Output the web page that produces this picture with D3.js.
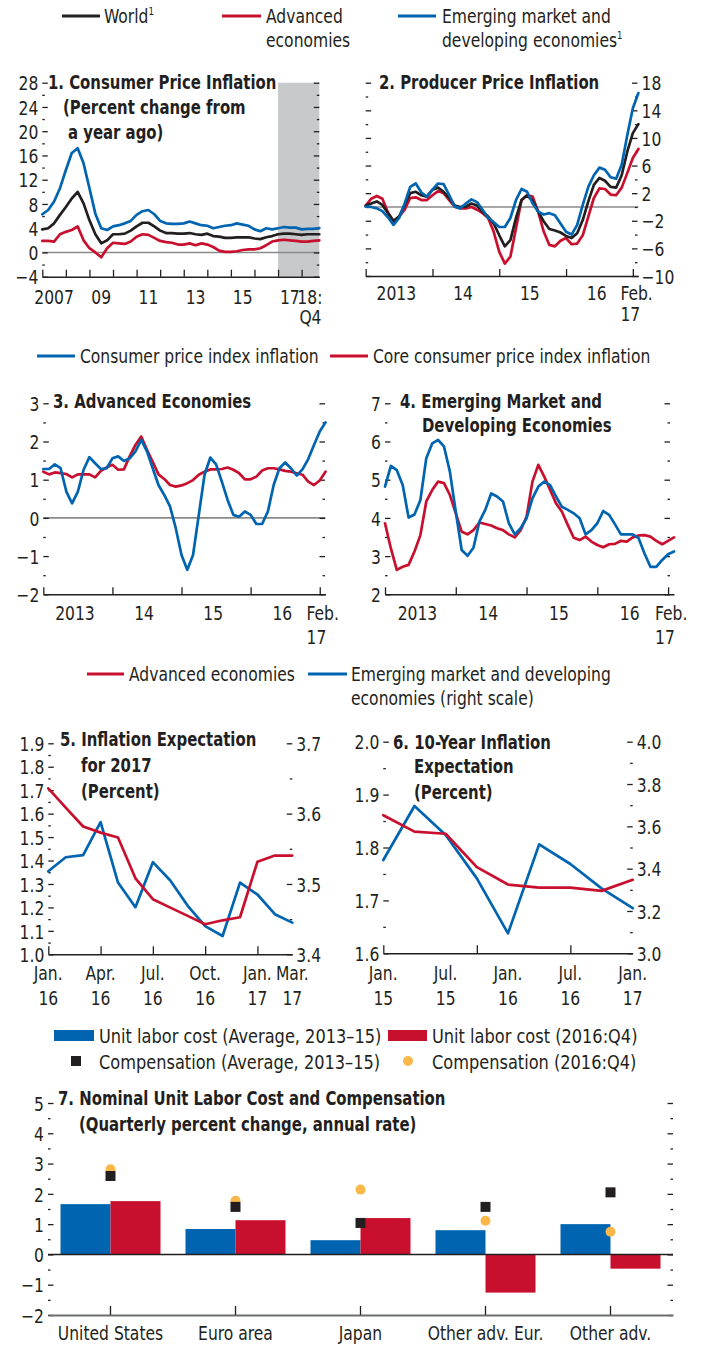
<!DOCTYPE html>
<html lang="en">
<head>
<meta charset="UTF-8">
<title>Inflation panels</title>
<style>
  body { margin: 0; background: #fff; }
  svg { display: block; }
  text { font-family: 'Liberation Sans Narrow', 'Arial Narrow', 'DejaVu Sans Condensed', sans-serif; fill: #231f20; font-size: 20px; }
  .title { font-weight: bold; font-size: 19.5px; }
  .tick line { stroke: #231f20; stroke-width: 1.3; }
  .xaxis .domain { stroke: #231f20; stroke-width: 1.6; }
  .line { fill: none; stroke-width: 2.7; stroke-linejoin: round; stroke-linecap: round; }
  .zero { stroke: #8a8a8a; stroke-width: 1.6; }
</style>
</head>
<body>
<svg width="703" height="1346"></svg>
<script src="https://cdn.jsdelivr.net/npm/d3@7"></script>
<script>
// colours
var BLACK = "#231f20", RED = "#c8102e", BLUE = "#0064b0", ORANGE = "#fbb84a", SHADE = "#c8c9cb";

// 1. consumer price inflation, quarterly 2007:Q1 - 2018:Q4
var cpiWorld = [3.8,4.0,4.8,6.2,7.5,8.9,10.0,8.1,5.3,3.0,1.5,2.0,3.0,3.0,3.1,3.6,4.3,4.9,4.9,4.3,3.6,3.2,3.2,3.1,3.1,3.2,3.0,2.9,3.1,2.7,2.6,2.4,2.4,2.5,2.5,2.5,2.3,2.2,2.5,2.7,3.0,3.1,3.1,3.0,2.9,3.0,3.0,3.0];
var cpiAdv = [1.9,1.9,1.8,3.0,3.4,3.7,4.3,2.0,0.7,0.0,-0.8,0.7,1.6,1.5,1.4,1.8,2.6,3.0,2.9,2.4,1.9,1.7,1.6,1.3,1.3,1.5,1.2,1.5,1.3,0.9,0.3,0.1,0.1,0.2,0.4,0.5,0.5,0.7,1.2,1.8,2.0,2.1,2.0,1.9,1.8,1.8,1.9,2.0];
var cpiEmde = [6.3,7.0,8.4,10.6,13.6,16.4,17.2,14.7,10.6,6.4,4.0,3.7,4.3,4.5,4.8,5.2,6.2,6.8,7.0,6.3,5.2,4.8,4.7,4.7,4.8,5.1,4.8,4.5,4.4,4.0,4.2,4.4,4.5,4.8,4.6,4.4,3.8,3.5,4.0,3.8,4.0,4.2,4.1,4.1,3.8,3.9,3.9,4.0];
var p1YearLabels = ["2007", "09", "11", "13", "15", "17"];
var p1ForecastStart = 40; // 2017:Q1

// 2. producer price inflation, monthly Jan 2013 - Feb 2017
var ppiWorld = [0.2,0.5,0.8,0.3,-0.9,-2.0,-1.4,0.3,2.0,2.2,1.7,1.5,2.5,2.8,2.2,1.3,0.2,0.0,0.05,0.5,0.2,-0.7,-1.4,-2.4,-4.1,-5.7,-4.8,-1.6,1.0,1.7,0.9,-0.7,-2.1,-3.2,-3.4,-3.7,-4.2,-4.5,-3.8,-1.9,0.8,3.2,4.2,3.8,2.9,2.8,4.6,8.0,10.7,12.0];
var ppiAdv = [0.2,1.2,1.6,1.2,-0.8,-2.1,-1.4,-0.4,1.3,1.4,1.0,1.0,1.7,2.3,2.0,1.0,0.05,-0.2,-0.2,0.0,-0.4,-0.9,-1.6,-3.6,-6.5,-8.2,-7.2,-3.1,1.0,1.7,1.5,-0.7,-3.6,-5.5,-5.7,-4.9,-4.5,-5.4,-5.3,-4.1,-1.4,1.3,2.7,2.6,1.8,1.7,2.8,4.9,7.1,8.4];
var ppiEmde = [0.05,0.0,-0.2,-0.6,-1.5,-2.6,-1.6,0.5,2.9,3.4,2.1,1.5,2.5,3.4,3.3,1.7,0.05,-0.2,0.5,1.1,0.7,-0.4,-1.6,-2.2,-2.9,-2.9,-1.6,1.0,2.6,2.2,0.5,-0.7,-1.1,-0.9,-1.2,-2.4,-3.6,-4.0,-2.6,0.3,2.9,4.6,5.7,5.4,4.3,4.1,6.1,10.4,14.3,16.5];
var monthYearLabels = ["2013", "14", "15", "16"];

// 3. advanced economies, monthly Jan 2013 - Feb 2017
var aeCpi = [1.28,1.28,1.40,1.30,0.69,0.38,0.69,1.26,1.59,1.43,1.28,1.30,1.56,1.61,1.49,1.56,1.74,2.04,1.74,1.30,0.86,0.60,0.30,-0.27,-0.97,-1.36,-0.97,0.08,1.13,1.58,1.40,0.95,0.47,0.08,0.03,0.17,0.08,-0.16,-0.16,0.17,0.86,1.30,1.45,1.30,1.11,1.27,1.54,1.91,2.26,2.50];
var aeCore = [1.21,1.14,1.19,1.17,1.15,1.06,1.14,1.14,1.14,1.06,1.23,1.32,1.39,1.26,1.27,1.61,1.91,2.13,1.78,1.47,1.14,1.02,0.86,0.82,0.85,0.91,0.99,1.13,1.21,1.27,1.27,1.28,1.32,1.26,1.17,1.01,1.01,1.08,1.24,1.30,1.30,1.27,1.23,1.21,1.17,1.13,0.95,0.86,0.98,1.21];

// 4. emerging market and developing economies, monthly Jan 2013 - Feb 2017
var emCpi = [4.82,5.36,5.25,4.86,4.01,4.09,4.47,5.56,5.95,6.04,5.87,5.21,4.16,3.16,3.01,3.22,3.90,4.21,4.64,4.56,4.43,3.86,3.57,3.73,3.99,4.51,4.82,4.95,4.86,4.56,4.29,4.21,4.12,3.99,3.57,3.68,3.86,4.18,4.08,3.83,3.57,3.57,3.57,3.47,3.07,2.72,2.72,2.90,3.05,3.12];
var emCore = [3.86,3.20,2.64,2.72,2.77,3.12,3.55,4.43,4.73,4.95,4.91,4.60,4.12,3.64,3.57,3.68,3.88,3.84,3.80,3.73,3.68,3.57,3.49,3.68,4.03,4.95,5.39,5.08,4.73,4.38,4.16,3.81,3.48,3.42,3.51,3.38,3.29,3.23,3.31,3.32,3.40,3.38,3.49,3.54,3.55,3.51,3.40,3.31,3.40,3.49];

// 5. inflation expectation for 2017, monthly Jan 2016 - Mar 2017
var exp17Adv = [1.708,1.626,1.545,1.519,1.498,1.324,1.235,1.199,1.164,1.128,1.145,1.158,1.395,1.421,1.421];
var exp17Emde = [3.518,3.538,3.541,3.588,3.502,3.467,3.531,3.505,3.469,3.440,3.426,3.502,3.485,3.457,3.445];
var p5Labels = [["Jan.", "16"], ["Apr.", "16"], ["Jul.", "16"], ["Oct.", "16"], ["Jan.", "17"], ["Mar.", "17"]];
var p5LabelIdx = [0, 3, 6, 9, 12, 14];

// 6. 10-year inflation expectation, quarterly Jan 2015 - Jan 2017
var exp10Adv = [1.861,1.830,1.826,1.763,1.730,1.724,1.724,1.718,1.739];
var exp10Emde = [3.441,3.696,3.559,3.354,3.094,3.515,3.422,3.307,3.213];
var p6Labels = [["Jan.", "15"], ["Jul.", "15"], ["Jan.", "16"], ["Jul.", "16"], ["Jan.", "17"]];
var p6LabelIdx = [0, 2, 4, 6, 8];

// 7. unit labor cost and compensation
var countries = ["United States", "Euro area", "Japan", "Other adv. Eur.", "Other adv."];
var ulcAvg = [1.66, 0.84, 0.47, 0.80, 1.00];
var ulcQ4 = [1.76, 1.13, 1.20, -1.26, -0.47];
var compAvg = [2.59, 1.57, 1.04, 1.57, 2.05];
var compQ4 = [2.81, 1.77, 2.14, 1.11, 0.75];

var svg = d3.select("svg");

function steps(lo, hi, step) {
  return d3.range(Math.round((hi - lo) / step) + 1).map(function(k) { return +(lo + k * step).toFixed(4); });
}

// y axis with inward ticks, long at labelled values, short between
function vAxis(side, y, x, lo, hi, step, labelStep, fmt, labels) {
  var major = function(v) {
    var k = (v - lo) / labelStep;
    return Math.abs(k - Math.round(k)) < 1e-6;
  };
  var axis = (side === "left" ? d3.axisLeft(y) : d3.axisRight(y))
    .tickValues(steps(lo, hi, step))
    .tickSizeOuter(0)
    .tickSizeInner(-5.5)
    .tickPadding(labels ? 4 : 0)
    .tickFormat(function(v) { return labels && major(v) ? fmt(v) : ""; });
  var a = svg.append("g").attr("transform", "translate(" + x + ",0)").call(axis);
  a.attr("font-size", null).attr("font-family", null);
  a.select(".domain").remove();
  a.selectAll(".tick line").attr("x2", function(v) {
    return (side === "left" ? 1 : -1) * (major(v) ? 5.5 : 2.5);
  });
  a.selectAll(".tick text").attr("fill", BLACK).attr("dy", "0.36em");
}

function xAxis(x, yPos, ticks, len) {
  return svg.append("g").attr("class", "xaxis").attr("transform", "translate(0," + yPos + ")")
    .call(d3.axisBottom(x).tickValues(ticks).tickSizeInner(-len).tickSizeOuter(0).tickFormat(""));
}

function zeroLine(x0, x1, y, color) {
  svg.append("line").attr("class", "zero")
    .attr("x1", x0).attr("x2", x1)
    .attr("y1", y(0)).attr("y2", y(0))
    .style("stroke", color || null);
}

function drawLine(x, y, data, color) {
  svg.append("path").datum(data).attr("class", "line").attr("stroke", color)
    .attr("d", d3.line().x(function(d, i) { return x(i); }).y(function(d) { return y(d); }));
}

function title(lines) {
  lines.forEach(function(l) {
    svg.append("text").attr("class", "title").attr("x", l[1]).attr("y", l[2]).text(l[0]);
  });
}

function label(txt, x, y, anchor) {
  return svg.append("text").attr("x", x).attr("y", y).attr("text-anchor", anchor || "middle").text(txt);
}

function legendLine(x1, x2, y, color) {
  svg.append("line").attr("x1", x1).attr("x2", x2).attr("y1", y).attr("y2", y)
    .attr("stroke", color).attr("stroke-width", 3);
}

var f0 = d3.format("d"), f1 = d3.format(".1f");

// ---------- legend top ----------
legendLine(62, 100, 16, BLACK);
var w = label("World", 104, 23, "start");
w.append("tspan").attr("font-size", 11).attr("dy", -8).text("1");
legendLine(222, 261, 16, RED);
label("Advanced", 266, 23, "start");
label("economies", 266, 47, "start");
legendLine(398, 436, 16, BLUE);
label("Emerging market and", 442, 23, "start");
var em = label("developing economies", 442, 47, "start");
em.append("tspan").attr("font-size", 11).attr("dy", -8).text("1");

// ---------- panel 1 ----------
var x1 = d3.scaleLinear().domain([0, 47]).range([42.3, 319.3]);
var y1 = d3.scaleLinear().domain([-4, 28]).range([276.7, 82.7]);
svg.append("rect").attr("x", x1(p1ForecastStart)).attr("y", y1(28))
  .attr("width", x1(47) - x1(p1ForecastStart)).attr("height", y1(-4) - y1(28)).attr("fill", SHADE);
zeroLine(x1(0), x1(47), y1);
vAxis("left", y1, x1(0), -4, 28, 2, 4, f0, true);
vAxis("right", y1, x1(47), -4, 28, 2, 4, f0, false);
xAxis(x1, y1(-4), d3.range(0, 48, 4), 7);
drawLine(x1, y1, cpiAdv, RED);
drawLine(x1, y1, cpiWorld, BLACK);
drawLine(x1, y1, cpiEmde, BLUE);
p1YearLabels.forEach(function(t, i) { label(t, x1(i * 8 + 2), 304); });
label("18:", x1(45.4), 304);
label("Q4", x1(45.5), 324);
title([["1. Consumer Price Inflation", 48, 89], ["(Percent change from", 63, 114], ["a year ago)", 68, 139]]);

// ---------- panel 2 ----------
var x2 = d3.scaleLinear().domain([0, 49]).range([365.7, 638.4]);
var y2 = d3.scaleLinear().domain([-10, 18]).range([276, 82.7]);
zeroLine(x2(0), x2(49), y2);
vAxis("left", y2, x2(0), -10, 18, 2, 4, f0, false);
vAxis("right", y2, 637.5, -10, 18, 2, 4, f0, true);
xAxis(x2, y2(-10), [0, 12, 24, 36, 48], 7);
drawLine(x2, y2, ppiAdv, RED);
drawLine(x2, y2, ppiWorld, BLACK);
drawLine(x2, y2, ppiEmde, BLUE);
monthYearLabels.forEach(function(t, i) { label(t, x2(i * 12 + 5.5), 300); });
label("Feb.", x2(49) - 18, 300, "start");
label("17", x2(49) - 18, 321, "start");
title([["2. Producer Price Inflation", 379, 89]]);

// ---------- legend panels 3-4 ----------
legendLine(37, 75, 356, BLUE);
label("Consumer price index inflation", 80, 363, "start");
legendLine(330, 368, 356, RED);
label("Core consumer price index inflation", 373, 363, "start");

// ---------- panel 3 ----------
var x3 = d3.scaleLinear().domain([0, 49]).range([43.3, 325.5]);
var y3 = d3.scaleLinear().domain([-2, 3]).range([594.3, 403.3]);
zeroLine(x3(0), x3(49), y3);
vAxis("left", y3, x3(0), -2, 3, 0.5, 1, f0, true);
vAxis("right", y3, 325, -2, 3, 0.5, 1, f0, false);
xAxis(x3, y3(-2), [0, 12, 24, 36, 48], 7);
drawLine(x3, y3, aeCore, RED);
drawLine(x3, y3, aeCpi, BLUE);
monthYearLabels.forEach(function(t, i) { label(t, x3(i * 12 + 5.5), 620); });
label("Feb.", x3(49) - 19, 620, "start");
label("17", x3(49) - 19, 644, "start");
title([["3. Advanced Economies", 53, 408]]);

// ---------- panel 4 ----------
var x4 = d3.scaleLinear().domain([0, 49]).range([385, 674]);
var y4 = d3.scaleLinear().domain([2, 7]).range([594.3, 403.3]);
vAxis("left", y4, x4(0), 2, 7, 0.5, 1, f0, true);
vAxis("right", y4, 670, 2, 7, 0.5, 1, f0, false);
xAxis(x4, y4(2), [0, 12, 24, 36, 48], 7);
drawLine(x4, y4, emCore, RED);
drawLine(x4, y4, emCpi, BLUE);
monthYearLabels.forEach(function(t, i) { label(t, x4(i * 12 + 5.5), 620); });
label("Feb.", x4(49) - 19, 620, "start");
label("17", x4(49) - 19, 644, "start");
title([["4. Emerging Market and", 400, 408], ["Developing Economies", 422, 432]]);

// ---------- legend panels 5-6 ----------
legendLine(87, 124, 674, RED);
label("Advanced economies", 129, 681, "start");
legendLine(308, 347, 674, BLUE);
label("Emerging market and developing", 351, 681, "start");
label("economies (right scale)", 351, 705, "start");

// ---------- panel 5 ----------
var x5 = d3.scaleLinear().domain([0, 14]).range([48.3, 292.3]);
var y5 = d3.scaleLinear().domain([1.0, 1.9]).range([954.3, 743.3]);
var y5r = d3.scaleLinear().domain([3.4, 3.7]).range([954.3, 743.3]);
vAxis("left", y5, x5(0), 1.0, 1.9, 0.05, 0.1, f1, true);
vAxis("right", y5r, x5(14), 3.4, 3.7, 0.05, 0.1, f1, true);
xAxis(x5, y5(1.0), [0, 3, 6, 9, 12], 8);
drawLine(x5, y5r, exp17Emde, BLUE);
drawLine(x5, y5, exp17Adv, RED);
p5Labels.forEach(function(t, i) {
  label(t[0], x5(p5LabelIdx[i]), 980);
  label(t[1], x5(p5LabelIdx[i]), 1005);
});
title([["5. Inflation Expectation", 60, 746], ["for 2017", 81, 772], ["(Percent)", 81, 798]]);

// ---------- panel 6 ----------
var x6 = d3.scaleLinear().domain([0, 8]).range([383.3, 632.7]);
var y6 = d3.scaleLinear().domain([1.6, 2.0]).range([953.3, 741.7]);
var y6r = d3.scaleLinear().domain([3.0, 4.0]).range([953.3, 741.7]);
vAxis("left", y6, x6(0), 1.6, 2.0, 0.05, 0.1, f1, true);
vAxis("right", y6r, x6(8), 3.0, 4.0, 0.1, 0.2, f1, true);
xAxis(x6, y6(1.6), [0, 3, 6], 8);
drawLine(x6, y6r, exp10Emde, BLUE);
drawLine(x6, y6, exp10Adv, RED);
p6Labels.forEach(function(t, i) {
  label(t[0], x6(p6LabelIdx[i]), 980);
  label(t[1], x6(p6LabelIdx[i]), 1005);
});
title([["6. 10-Year Inflation", 393, 749], ["Expectation", 414, 773], ["(Percent)", 414, 799]]);

// ---------- legend panel 7 ----------
svg.append("rect").attr("x", 54).attr("y", 1030).attr("width", 40).attr("height", 11).attr("fill", BLUE);
label("Unit labor cost (Average, 2013\u201315)", 99, 1043, "start").attr("class", "leg7");
svg.append("rect").attr("x", 388).attr("y", 1030).attr("width", 39).attr("height", 11).attr("fill", RED);
label("Unit labor cost (2016:Q4)", 432, 1043, "start").attr("class", "leg7");
svg.append("rect").attr("x", 71).attr("y", 1056).attr("width", 10).attr("height", 10).attr("fill", BLACK);
label("Compensation (Average, 2013\u201315)", 99, 1069, "start").attr("class", "leg7");
svg.append("circle").attr("cx", 408).attr("cy", 1061).attr("r", 5).attr("fill", ORANGE);
label("Compensation (2016:Q4)", 432, 1069, "start").attr("class", "leg7");

// ---------- panel 7 ----------
var x7 = d3.scaleBand().domain(countries).range([48, 673]).paddingInner(0.2).paddingOuter(0.1);
var xs = d3.scaleBand().domain(["avg", "q4"]).range([0, x7.bandwidth()]);
var y7 = d3.scaleLinear().domain([-2, 5]).range([1315, 1103]);
vAxis("left", y7, 48, -2, 5, 0.5, 1, f0, true);
vAxis("right", y7, 673, -2, 5, 0.5, 1, f0, false);

var barData = countries.map(function(c, i) {
  return [{c: c, s: "avg", v: ulcAvg[i]}, {c: c, s: "q4", v: ulcQ4[i]}];
});
svg.append("g").selectAll("g").data(barData).enter().append("g")
  .attr("transform", function(d) { return "translate(" + x7(d[0].c) + ",0)"; })
  .selectAll("rect").data(function(d) { return d; }).enter().append("rect")
  .attr("x", function(d) { return xs(d.s); })
  .attr("width", xs.bandwidth())
  .attr("y", function(d) { return y7(Math.max(0, d.v)); })
  .attr("height", function(d) { return Math.abs(y7(d.v) - y7(0)); })
  .attr("fill", function(d) { return d.s === "avg" ? BLUE : RED; });

zeroLine(48, 673, y7, BLACK);

var mid = function(c) { return x7(c) + x7.bandwidth() / 2; };
svg.append("g").selectAll("circle").data(countries).enter().append("circle")
  .attr("cx", mid).attr("cy", function(c, i) { return y7(compQ4[i]); })
  .attr("r", 5).attr("fill", ORANGE);
svg.append("g").selectAll("rect").data(countries).enter().append("rect")
  .attr("x", function(c) { return mid(c) - 5; })
  .attr("y", function(c, i) { return y7(compAvg[i]) - 5; })
  .attr("width", 10).attr("height", 10).attr("fill", BLACK);

var ax7 = svg.append("g").attr("transform", "translate(0," + y7(-2) + ")")
  .call(d3.axisBottom(x7).tickSizeInner(-9).tickSizeOuter(0).tickFormat(""));
ax7.select(".domain").attr("stroke", "#6d6e70").attr("stroke-width", 2.2);
countries.forEach(function(c) { label(c, mid(c), 1340); });

title([["7. Nominal Unit Labor Cost and Compensation", 58, 1105], ["(Quarterly percent change, annual rate)", 79, 1131]]);

// the reference type is a condensed face: narrow every text around its anchor
function squeeze(sel, k) {
  sel.each(function() {
    var anc = getComputedStyle(this).textAnchor;
    var ox = anc === "middle" ? "50%" : anc === "end" ? "100%" : "0%";
    d3.select(this)
      .style("transform-box", "fill-box")
      .style("transform-origin", ox + " 50%")
      .style("transform", "scaleX(" + k + ")");
  });
}
squeeze(svg.selectAll("text"), 0.865);
squeeze(svg.selectAll("text.title"), 0.85);
squeeze(svg.selectAll("text.leg7"), 0.9);
</script>
</body>
</html>
